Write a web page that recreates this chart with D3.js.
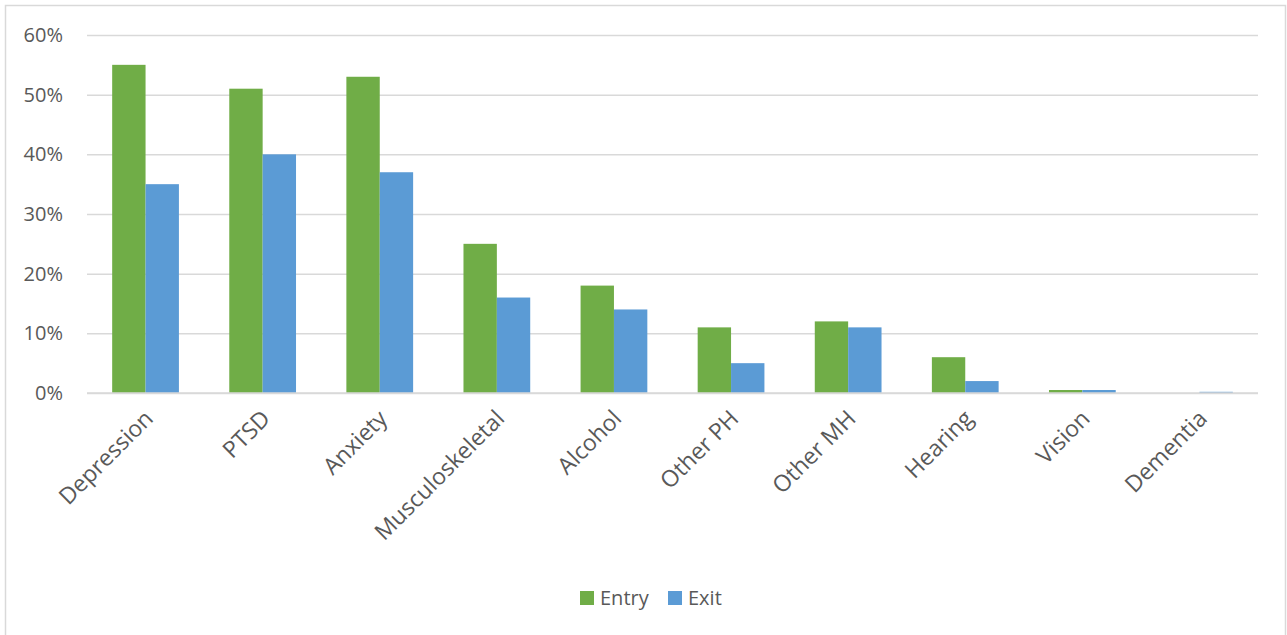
<!DOCTYPE html>
<html><head><meta charset="utf-8">
<script src="https://cdn.jsdelivr.net/npm/d3@7"></script>
<style>body{margin:0;background:#fff;font-family:"Open Sans","Liberation Sans",sans-serif;}</style>
</head><body><svg id="c" width="1287" height="635"></svg>
<script>
const categories = ["Depression","PTSD","Anxiety","Musculoskeletal","Alcohol","Other PH","Other MH","Hearing","Vision","Dementia"];
const seriesNames = ["Entry","Exit"];
const entryValues = [0.55,0.51,0.53,0.25,0.18,0.11,0.12,0.06,0.005,0];
const exitValues = [0.35,0.40,0.37,0.16,0.14,0.05,0.11,0.02,0.005,0.002];
const yTicks = [0,0.1,0.2,0.3,0.4,0.5,0.6];
const colors = ["#70AD47","#5B9BD5"];

const svg = d3.select("#c");
svg.append("rect").attr("x",5.5).attr("y",5.5).attr("width",1280).attr("height",640)
  .attr("fill","#fff").attr("stroke","#d9d9d9").attr("stroke-width",1.5);

const mLeft=87, mRight=1258, mTop=35, mBottom=393;
const x = d3.scaleBand().domain(categories).range([mLeft,mRight]).paddingInner(0.43).paddingOuter(0.215);
const x1 = d3.scaleBand().domain(seriesNames).range([0,x.bandwidth()]);
const y = d3.scaleLinear().domain([0,0.6]).range([mBottom,mTop]);

const gy = svg.append("g").attr("transform",`translate(${mLeft},0)`)
  .call(d3.axisLeft(y).tickValues(yTicks).tickFormat(d3.format(".0%")).tickSize(-(mRight-mLeft)).tickPadding(24));
gy.select(".domain").remove();
gy.selectAll(".tick line").attr("stroke","#d9d9d9").attr("stroke-width",1.5);
gy.selectAll(".tick text").attr("fill","#595959").style("font-size","20px").style("font-family","'Open Sans','Liberation Sans',sans-serif");

const data = categories.map((c,i)=>({c, vals:[entryValues[i],exitValues[i]]}));
const g = svg.append("g").selectAll("g").data(data).join("g").attr("transform",d=>`translate(${x(d.c)},0)`);
g.selectAll("rect").data(d=>d.vals.map((v,j)=>({v,s:seriesNames[j],j}))).join("rect")
  .attr("x",d=>x1(d.s)).attr("width",x1.bandwidth())
  .attr("y",d=>y(d.v)).attr("height",d=>mBottom-y(d.v))
  .attr("fill",d=>colors[d.j]);

const gx = svg.append("g").attr("transform",`translate(0,${mBottom})`)
  .call(d3.axisBottom(x).tickSize(0).tickPadding(0));
gx.select(".domain").attr("stroke","#d9d9d9").attr("stroke-width",1.5).attr("d",`M${mLeft},0H${mRight}`);
gx.selectAll(".tick text").attr("fill","#595959").style("font-size","23px")
  .style("font-family","'Open Sans','Liberation Sans',sans-serif")
  .attr("text-anchor","end").attr("dy","0").attr("y",0).attr("transform","translate(9,27) rotate(-45)");

const leg = svg.append("g").attr("transform","translate(580,591)");
seriesNames.forEach((s,i)=>{
  const lg = leg.append("g").attr("transform",`translate(${i*88},0)`);
  lg.append("rect").attr("width",14).attr("height",14).attr("fill",colors[i]);
  lg.append("text").attr("x",20).attr("y",14).text(s).attr("fill","#595959")
    .style("font-size","20px");
});
</script></body></html>
